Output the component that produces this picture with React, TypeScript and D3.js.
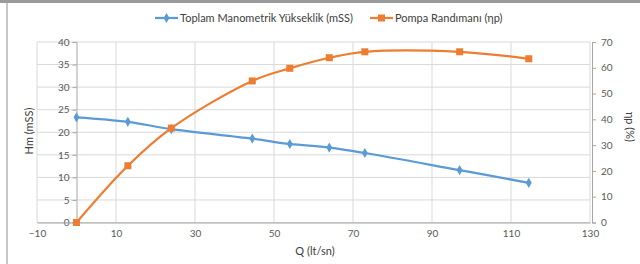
import * as d3 from 'd3';
import { useEffect, useRef } from 'react';

// Q (lt/sn) values shared by both series
const flow = [0, 13, 24, 44.5, 54, 64, 73, 97, 114.5];
// Toplam manometrik yükseklik (mSS)
const head = [23.3, 22.3, 20.7, 18.6, 17.4, 16.6, 15.4, 11.6, 8.8];
// Pompa randımanı (%)
const efficiency = [0, 22, 36.6, 54.9, 59.8, 63.9, 66.2, 66.2, 63.5];

const xTicks = [-10, 10, 30, 50, 70, 90, 110, 130];
const leftTicks = [0, 5, 10, 15, 20, 25, 30, 35, 40];
const rightTicks = [0, 10, 20, 30, 40, 50, 60, 70];

const headLabel = 'Toplam Manometrik Yükseklik (mSS)';
const effLabel = 'Pompa Randımanı (ηp)';

const WIDTH = 640;
const HEIGHT = 264;
const PLOT = { left: 37, right: 590, top: 42, bottom: 222.5 };

const BLUE = '#5b9bd5';
const ORANGE = '#ed7d31';
const FONT = 'Lato, "Open Sans", sans-serif';

export default function App() {
    const axesRef = useRef<SVGGElement>(null);

    const xScale = d3.scaleLinear().domain([-10, 130]).range([PLOT.left, PLOT.right]);
    const yLeft = d3.scaleLinear().domain([0, 40]).range([PLOT.bottom, PLOT.top]);
    const yRight = d3.scaleLinear().domain([0, 70]).range([PLOT.bottom, PLOT.top]);

    useEffect(() => {
        const g = d3.select(axesRef.current);
        g.selectAll('*').remove();

        // left axis crosses at Q = 0
        const left = g
            .append('g')
            .attr('transform', `translate(${xScale(0)},0)`)
            .call(d3.axisLeft(yLeft).tickValues(leftTicks).tickSize(4).tickPadding(3));
        left.select('.domain').attr('stroke', '#a6a6a6');
        left.selectAll('line').attr('stroke', '#a6a6a6');
        left.selectAll('text').attr('fill', '#595959').attr('font-size', 10).attr('font-family', FONT);

        const right = g
            .append('g')
            .attr('transform', `translate(${PLOT.right + 2},0)`)
            .call(d3.axisRight(yRight).tickValues(rightTicks).tickSize(4).tickPadding(5));
        right.select('.domain').attr('stroke', '#a6a6a6');
        right.selectAll('line').attr('stroke', '#a6a6a6');
        right.selectAll('text').attr('fill', '#595959').attr('font-size', 10).attr('font-family', FONT);

        const bottom = g
            .append('g')
            .attr('transform', `translate(0,${PLOT.bottom})`)
            .call(
                d3
                    .axisBottom(xScale)
                    .tickValues(xTicks)
                    .tickSize(0)
                    .tickPadding(7)
                    .tickFormat(d3.format('d'))
            );
        bottom.select('.domain').attr('stroke', '#a6a6a6');
        bottom.selectAll('text').attr('fill', '#595959').attr('font-size', 10).attr('font-family', FONT);
    }, []);

    const pts = flow.map((q, i) => ({ q, h: head[i], e: efficiency[i] }));

    const headLine = d3
        .line<{ q: number; h: number }>()
        .x((d) => xScale(d.q))
        .y((d) => yLeft(d.h))
        .curve(d3.curveCatmullRom);
    const effLine = d3
        .line<{ q: number; e: number }>()
        .x((d) => xScale(d.q))
        .y((d) => yRight(d.e))
        .curve(d3.curveCatmullRom);

    const diamond = d3.symbol(d3.symbolDiamond, 30)() || '';

    return (
        <svg
            width={WIDTH}
            height={HEIGHT}
            style={{ position: 'absolute', left: 0, top: 0, background: '#fff' }}
        >
            <rect x={0} y={0} width={WIDTH} height={HEIGHT} fill="#fff" />
            {/* chart frame */}
            <line x1={0} x2={WIDTH} y1={1.5} y2={1.5} stroke="#9a9a9a" strokeWidth={3} />
            <line x1={7} x2={7} y1={3} y2={HEIGHT} stroke="#b5b5b5" strokeWidth={1.5} />

            {/* gridlines */}
            <g stroke="#d9d9d9" strokeWidth={1}>
                {leftTicks.map((t) => (
                    <line key={'h' + t} x1={PLOT.left} x2={PLOT.right} y1={yLeft(t)} y2={yLeft(t)} />
                ))}
                {xTicks.map((t) => (
                    <line key={'v' + t} x1={xScale(t)} x2={xScale(t)} y1={PLOT.top} y2={PLOT.bottom} />
                ))}
            </g>

            <g ref={axesRef} />

            {/* series */}
            <path d={headLine(pts) || ''} fill="none" stroke={BLUE} strokeWidth={2.25} />
            <path d={effLine(pts) || ''} fill="none" stroke={ORANGE} strokeWidth={2.25} />
            {pts.map((d, i) => (
                <path
                    key={'d' + i}
                    d={diamond}
                    transform={`translate(${xScale(d.q)},${yLeft(d.h)})`}
                    fill={BLUE}
                />
            ))}
            {pts.map((d, i) => (
                <rect
                    key={'s' + i}
                    x={xScale(d.q) - 3.5}
                    y={yRight(d.e) - 3.5}
                    width={7}
                    height={7}
                    fill={ORANGE}
                />
            ))}

            {/* legend */}
            <g fontFamily={FONT} fontSize={11} fill="#404040">
                <line x1={155} x2={178} y1={18} y2={18} stroke={BLUE} strokeWidth={2.25} />
                <path d={diamond} transform="translate(166.5,18)" fill={BLUE} />
                <text x={180} y={22}>
                    {headLabel}
                </text>
                <line x1={370} x2={393} y1={18} y2={18} stroke={ORANGE} strokeWidth={2.25} />
                <rect x={378} y={14.5} width={7} height={7} fill={ORANGE} />
                <text x={395} y={22}>
                    {effLabel}
                </text>
            </g>

            {/* axis titles */}
            <g fontFamily={FONT} fontSize={11} fill="#404040" textAnchor="middle">
                <text transform="translate(33,131) rotate(-90)">Hm (mSS)</text>
                <text transform="translate(626,127) rotate(90)">ηp (%)</text>
                <text x={315} y={255}>
                    Q (lt/sn)
                </text>
            </g>
        </svg>
    );
}
